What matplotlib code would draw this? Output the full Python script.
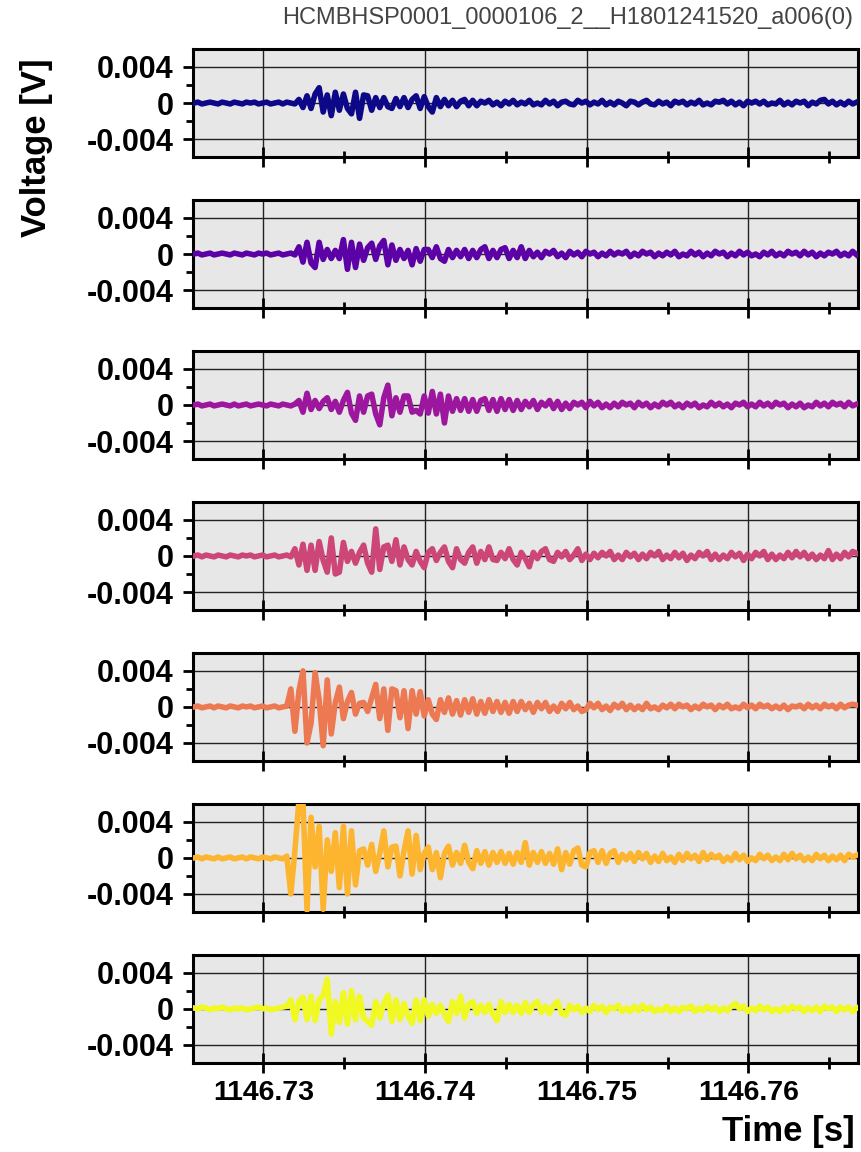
import numpy as np
import matplotlib.pyplot as plt
from matplotlib import font_manager

plt.rcParams['font.family'] = ['Liberation Sans', 'DejaVu Sans']
plt.rcParams['font.weight'] = 'bold'

names = {f.name for f in font_manager.fontManager.ttflist}
title_font = 'Liberation Sans Narrow' if 'Liberation Sans Narrow' in names else 'Liberation Sans'
title_size = 20.5 if title_font == 'Liberation Sans Narrow' else 17

# sampled traces, values in units of 1e-4 V, sample step dt from t0
t0 = 1146.7257
dt = 0.00025
unit = 1e-4

ch1 = [0, 1, -1, 0, 1, 0, -1, 1, 0, -1,
       1, 0, -1, 1, 0, 1, -1, 0, 1, -1,
       0, 1, -1, 1, 0, -1, 4, -5, 8, -6,
       10, 17, -10, 9, -14, 12, -8, 10, -6, -12,
       12, -17, 9, 8, -8, 6, -5, 6, -4, -6,
       5, -4, 6, -5, 4, 8, -6, 7, -4, -10,
       6, -4, 4, -3, 3, -4, 2, 4, -3, 3,
       -3, 2, 0, 3, -2, 1, -3, 2, -1, 3,
       -2, 1, -1, 3, -2, 0, -2, 3, -1, 2,
       -3, 1, 2, -1, -2, 3, 0, 2, -2, 1,
       -1, 3, -2, 1, -2, 2, 0, -3, 2, 1,
       -2, 1, 3, -1, -2, 2, -1, 1, -3, 2,
       0, 2, -2, 1, -1, 3, -2, 0, -2, 2,
       1, 3, -1, 2, -2, 1, -3, 2, 0, 2,
       -1, 2, -2, 0, -1, 3, -2, 1, -2, 2,
       0, 2, -3, 1, -1, 3, 4, -1, 2, -2,
       1, -2, 2, -1, 1]

ch2 = [0, 1, -1, 0, 1, -1, 0, 1, 0, -1,
       1, 0, -1, 1, 0, -1, 1, 0, 1, -1,
       0, 1, -1, 0, 1, -1, 8, -9, 13, -10,
       -15, 13, -6, 5, -5, 4, -5, 16, -17, 13,
       -15, 11, -7, 7, 12, -6, 9, 15, -12, 10,
       -7, 5, -5, 4, -12, 6, -8, 5, 5, -4,
       8, -5, -8, 5, -4, 4, -3, 5, -5, 4,
       -4, 5, 8, -5, 4, -4, 5, 7, -5, 4,
       -4, 8, -5, 4, -3, 2, -4, 3, 0, 4,
       -3, 1, -4, 3, -1, 2, -3, 3, 0, 2,
       -3, 1, -2, 3, -1, 2, 0, 3, -3, 1,
       -2, 3, 0, 2, -3, 1, -2, 2, -1, 3,
       -3, 0, -2, 3, -1, 2, -3, 1, -2, 3,
       0, 2, -3, 1, -2, 3, -1, 2, -2, 0,
       -3, 2, -1, 3, -2, 1, -2, 3, 0, 2,
       -2, 3, -1, 2, -3, 1, -2, 2, 0, 3,
       -2, 1, -2, 3, -1]

ch3 = [0, 1, -1, 0, 1, -1, 0, 1, 0, -1,
       1, -1, 0, 1, -1, 0, 1, 0, -1, 1,
       0, -1, 1, 0, -1, 1, 5, -8, 13, -5,
       5, -4, 4, 8, -5, 4, -8, 5, 14, -9,
       -17, 10, -8, 10, 12, -10, -22, 8, 22, -12,
       8, -8, 10, 10, -8, -6, -10, 10, -9, 15,
       -10, 12, -20, 10, -7, 7, -6, 7, -7, 6,
       -7, 5, 7, -6, 6, -7, 7, -5, 6, -6,
       5, -5, 4, -2, 5, -5, 3, -1, 5, -4,
       4, -5, 2, -4, 3, 0, 3, -3, 4, -1,
       3, -3, 1, -3, 2, -2, 3, 0, 2, -3,
       3, -1, 2, -3, 1, -2, 3, 0, 3, -2,
       1, -3, 2, -1, 2, -3, 0, -2, 3, -1,
       2, -2, 1, -3, 2, 0, 3, -2, 1, -2,
       3, -1, 2, -2, 3, 0, 2, -3, 1, -2,
       2, -3, 0, -2, 3, -1, 2, -2, 3, 0,
       2, -2, 3, -1, 1]

ch4 = [0, 1, -1, 1, 0, -1, 1, 0, -1, 1,
       0, -1, 1, 0, 1, -1, 0, 1, -1, 0,
       1, -1, 0, 1, -1, 8, -10, 13, -16, 12,
       -16, 16, -5, -18, 20, -20, -18, 15, -6, 5,
       -8, 4, 12, -8, -18, 30, -15, 10, 12, -6,
       18, -10, 10, -4, -10, 5, -6, -13, 4, 8,
       -5, 4, 10, -6, -13, 8, -4, -8, 4, 10,
       -8, 5, -4, 10, -4, -5, 4, -3, 8, -4,
       -10, 4, -3, -12, 4, -3, 5, 8, -4, -6,
       4, -1, 5, -4, 1, 8, -5, 2, -4, 3,
       -2, 4, 0, 5, -4, 1, -4, 4, -1, 3,
       -4, 2, -3, 4, 0, 5, -4, 1, -3, 4,
       -2, 3, -5, 1, -3, 4, 0, 5, -4, 2,
       -4, 1, -3, 4, -1, 3, -5, 2, -3, 4,
       0, 5, -4, 2, -4, 1, -3, 4, -2, 5,
       -1, 4, -3, 2, -4, 1, -3, 6, -4, 2,
       -3, 4, -1, 5, 3]

ch5 = [0, 1, -1, 0, 1, -1, 1, 0, -1, 1,
       0, -1, 1, 0, 1, -1, 0, 1, -1, 0,
       1, -1, 0, 1, 20, -27, 18, 40, -40, -18,
       38, 8, -43, 30, -30, 5, 22, -13, 6, 16,
       -8, 4, 5, -5, 10, 25, -13, 20, -26, 20,
       18, -12, 18, -24, 18, -8, 17, -10, 8, -8,
       -14, 8, -6, 10, -8, 7, -9, 8, -6, 9,
       -8, 6, -7, 8, -5, 6, -6, 5, -7, 6,
       -5, 6, -3, 4, -6, 5, -2, 5, -5, 1,
       -5, 4, -2, 5, -3, 1, -5, -3, 4, -1,
       4, -3, 1, -4, 3, -1, 4, -3, 2, -3,
       1, -3, 4, -2, 0, -3, 2, -1, 3, -2,
       3, 0, 2, -3, 1, -2, 3, 0, 2, -3,
       2, -1, 3, -2, 0, -2, 3, -1, 2, -2,
       3, 0, 2, -2, 1, -2, 2, -3, 1, 0,
       2, -2, 3, -1, 2, -2, 3, 0, 2, -2,
       3, -1, 2, 3, 2]

ch6 = [0, 1, -1, 1, 0, -1, 1, -1, 0, 1,
       -1, 0, 1, -1, 1, 0, -1, 1, 0, -1,
       1, 0, -1, 2, -40, 8, 64, 62, -58, 45,
       -10, 35, -57, 20, -15, 28, -33, 35, -40, 30,
       -30, 8, 10, -8, 15, -15, 5, 30, -10, 12,
       13, -20, 8, 30, -18, 25, -13, 5, 12, -13,
       6, -22, 5, 13, -8, 6, -6, 14, -5, -12,
       8, -6, 7, -8, 6, -5, 7, -6, 5, -7,
       6, -5, 17, -8, 6, -5, 7, -6, 5, -7,
       10, -13, 6, -7, 8, 11, -8, -10, 6, 8,
       -5, 8, -6, 5, 8, -5, 4, -2, 5, -4,
       6, -1, 5, -5, 2, -4, 5, -3, 1, -5,
       4, -3, 5, -1, 3, -4, 6, -2, 4, 0,
       3, -4, 1, -3, 5, -2, 3, -4, 0, -3,
       4, -1, 3, -3, 1, -3, 4, -2, 5, -1,
       3, -3, 1, -3, 4, -1, 3, -3, 2, -2,
       3, -3, 4, 1, 3]

ch7 = [1, 0, 2, 1, -1, 1, 0, 2, 0, -1,
       1, 0, 1, -1, 0, 1, 2, 0, 1, -1,
       0, 1, 2, 3, 10, -12, 8, 13, -12, 14,
       -13, 10, 15, 33, -28, 8, -15, 18, -17, 20,
       -12, 14, -10, -14, -18, 8, -10, 6, 15, -14,
       10, -12, 6, -8, -16, 10, -13, 10, -8, 5,
       -5, 4, -6, -14, 8, -5, 14, -10, 5, 8,
       -5, 4, -4, 5, -6, -13, 8, -4, 5, -4,
       4, -5, 7, -4, 5, 8, -4, 3, -5, 4,
       8, -5, -7, 4, -1, 3, -4, 1, -3, 4,
       -1, 3, -4, 2, 0, 4, -3, 1, -3, 3,
       -2, 4, -1, 2, -3, 0, -2, 3, -3, 1,
       -3, 2, 0, 3, -3, 1, -2, 3, -1, 2,
       -3, 1, -2, 3, 6, 0, 3, -3, 1, -2,
       3, -1, 2, -3, 0, -3, 2, -2, 3, 0,
       2, -3, 1, -2, 2, -3, 3, 0, 2, -3,
       2, -1, 2, -3, 1]

channels = [ch1, ch2, ch3, ch4, ch5, ch6, ch7]

x_ticks = [1146.73, 1146.74, 1146.75, 1146.76]
x_labels = ['1146.73', '1146.74', '1146.75', '1146.76']
x_minor = [1146.735, 1146.745, 1146.755, 1146.765]
y_ticks = [-0.004, 0, 0.004]
y_labels = ['-0.004', '0', '0.004']
y_minor = [-0.002, 0.002]

title = 'HCMBHSP0001_0000106_2__H1801241520_a006(0)'

colors = plt.cm.plasma(np.linspace(0, 1, len(channels)))

fig, axes = plt.subplots(len(channels), 1, figsize=(8.61, 11.52), dpi=100, sharex=True)
fig.subplots_adjust(left=0.2242, right=0.9965, top=0.9575, bottom=0.0773, hspace=0.396)

for ax, v, c in zip(axes, channels, colors):
    t = t0 + dt * np.arange(len(v))
    ax.plot(t, np.array(v) * unit, color=c, lw=4, solid_joinstyle='round', zorder=3)
    ax.set_facecolor('#e7e7e7')
    ax.set_xlim(1146.72565, 1146.76678)
    ax.set_ylim(-0.006, 0.006)
    ax.set_yticks(y_ticks)
    ax.set_yticklabels(y_labels)
    ax.set_yticks(y_minor, minor=True)
    ax.set_xticks(x_ticks)
    ax.set_xticks(x_minor, minor=True)
    ax.grid(True, which='major', color='#222222', lw=1)
    ax.tick_params(axis='y', which='major', direction='out', length=7, width=2, labelsize=22, pad=7)
    ax.tick_params(axis='y', which='minor', direction='out', length=5, width=2)
    ax.tick_params(axis='x', which='major', direction='inout', length=14, width=2, labelsize=20.5, pad=5)
    ax.tick_params(axis='x', which='minor', direction='inout', length=9, width=2)
    for s in ax.spines.values():
        s.set_linewidth(2.2)

axes[-1].set_xticklabels(x_labels)

fig.text(0.042, 1 - 148 / 1152, 'Voltage [V]', rotation=90, ha='center', va='center', fontsize=25)
fig.text(855 / 861, 1 - 1132 / 1152, 'Time [s]', ha='right', va='center', fontsize=25)
fig.text(853 / 861, 1 - 18 / 1152, title, ha='right', va='center', fontsize=title_size,
         fontweight='normal', family=title_font, color='#444444')

fig.savefig('out.png', dpi=100)
